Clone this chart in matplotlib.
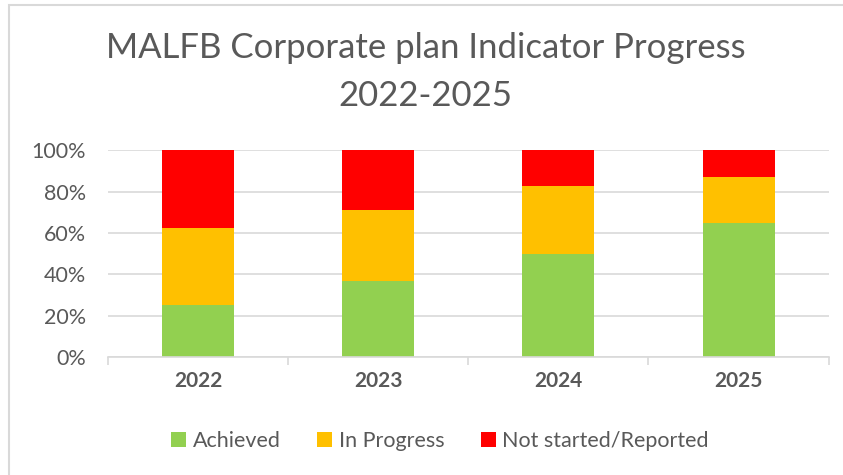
import matplotlib.pyplot as plt
import matplotlib.patches as patches
import numpy as np

years = ['2022', '2023', '2024', '2025']
achieved = [25.0, 36.6, 50.0, 64.7]
in_progress = [37.5, 34.6, 32.6, 22.3]
not_started = [37.5, 28.8, 17.4, 13.0]

labels = ['Achieved', 'In Progress', 'Not started/Reported']
colors = ['#92d050', '#ffc000', '#ff0000']
text_grey = '#595959'

plt.rcParams['font.family'] = ['Lato', 'DejaVu Sans']

fig = plt.figure(figsize=(8.43, 4.75), dpi=100)
ax = fig.add_axes([0.128, 0.248, 0.855, 0.436])

x = np.arange(len(years))
bottom = np.zeros(len(years))
for vals, lab, col in zip([achieved, in_progress, not_started], labels, colors):
    ax.bar(x, vals, width=0.4, bottom=bottom, color=col, label=lab, zorder=3)
    bottom += np.array(vals)

ax.set_xlim(-0.5, len(years) - 0.5)
ax.set_ylim(0, 100)
ax.set_yticks(range(0, 101, 20))
ax.set_yticklabels([f'{v}%' for v in range(0, 101, 20)], fontsize=15.5, color=text_grey)
ax.grid(axis='y', color='#d9d9d9', linewidth=1.2, zorder=0)
ax.tick_params(axis='y', length=0, pad=16)

ax.set_xticks(x)
ax.set_xticklabels(years, fontsize=15, fontweight='bold', color=text_grey)
ax.set_xticks(np.arange(-0.5, len(years)), minor=True)
ax.tick_params(axis='x', which='major', length=0, pad=10)
ax.tick_params(axis='x', which='minor', length=6, color='#d9d9d9', width=1.2)

for s in ['top', 'right', 'left']:
    ax.spines[s].set_visible(False)
ax.spines['bottom'].set_color('#d9d9d9')
ax.spines['bottom'].set_linewidth(1.2)
ax.spines['bottom'].set_zorder(4)

fig.text(0.505, 0.9, 'MALFB Corporate plan Indicator Progress', ha='center', va='center',
         fontsize=25, color=text_grey)
fig.text(0.505, 0.797, '2022-2025', ha='center', va='center', fontsize=25, color=text_grey)

fig.legend(loc='center', bbox_to_anchor=(0.522, 0.072), ncol=3, frameon=False,
           fontsize=15.5, labelcolor=text_grey, handlelength=0.7, handleheight=0.7,
           handletextpad=0.3, columnspacing=1.7)

# chart frame, only left and top edges are visible in the crop
fig.patches.append(patches.Rectangle((0.011, -0.1), 1.2, 1.089, transform=fig.transFigure,
                                     fill=False, edgecolor='#d9d9d9', linewidth=1.5))

plt.savefig('out.png', dpi=100)
